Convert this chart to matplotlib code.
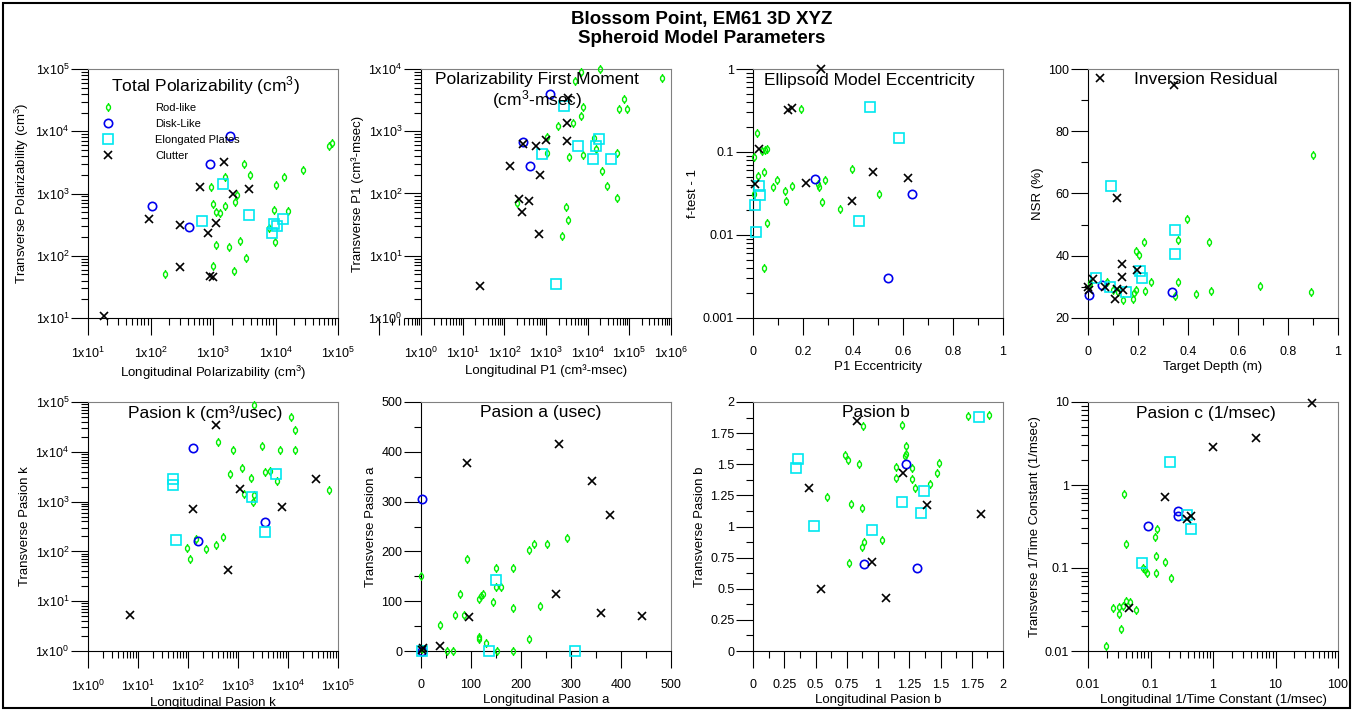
# Blossom Point EM61 - parametros do modelo esferoidal (8 paineis)
import numpy as np
import matplotlib.pyplot as plt
from matplotlib.path import Path
from matplotlib.lines import Line2D
from matplotlib.patches import Rectangle
from matplotlib.ticker import LogLocator, MultipleLocator, FuncFormatter, NullFormatter

plt.rcParams['font.family'] = ['Liberation Sans', 'DejaVu Sans']
plt.rcParams['mathtext.fontset'] = 'custom'
plt.rcParams['mathtext.rm'] = 'Liberation Sans'
plt.rcParams['mathtext.it'] = 'Liberation Sans:italic'
plt.rcParams['mathtext.bf'] = 'Liberation Sans:bold'

# ---------------- DADOS ----------------
classes = ['Rod-like', 'Disk-Like', 'Elongated Plates', 'Clutter']

# Painel 1 - Total Polarizability
p1_rod_x = [170, 940, 1000, 1100, 1280, 1550, 1550, 1100, 1000, 1780, 2180, 2400, 2280, 2700,
            3160, 3380, 3900, 7900, 9600, 9800, 10200, 13800, 15800, 28000, 71000, 79000]
p1_rod_y = [50, 1250, 680, 500, 480, 1870, 620, 148, 68, 139, 56, 930, 740, 175,
            2950, 92, 1950, 280, 550, 165, 1380, 1870, 515, 2400, 5800, 6400]
p1_disk_x = [105, 420, 890, 1850]
p1_disk_y = [620, 295, 3000, 8500]
p1_plate_x = [660, 1440, 3800, 8700, 9600, 10500, 13100]
p1_plate_y = [355, 1400, 445, 235, 320, 300, 390]
p1_clut_x = [18, 96, 300, 300, 630, 820, 890, 1000, 1100, 1500, 2100, 3700]
p1_clut_y = [10.6, 390, 310, 66, 1290, 235, 47, 45, 330, 3240, 1000, 1180]

# Painel 2 - Polarizability First Moment
p2_rod_x = [200, 1040, 1070, 1990, 2390, 3020, 3380, 3560, 4520, 5000, 6800, 6900, 7600, 7600,
            14500, 16200, 19400, 22500, 28700, 50000, 50500, 57500, 73000, 86500, 600000]
p2_rod_y = [70, 445, 815, 1230, 21, 60, 37, 380, 1350, 6500, 9100, 1780, 2450, 410,
            770, 525, 9900, 230, 133, 445, 85, 2240, 3250, 2240, 7100]
p2_disk_x = [280, 420, 1270]
p2_disk_y = [670, 280, 4000]
p2_plate_x = [800, 1700, 2750, 5900, 13700, 15600, 19000, 36300]
p2_plate_y = [430, 3.5, 2550, 570, 355, 580, 740, 355]
p2_clut_x = [26, 139, 220, 270, 280, 400, 590, 710, 690, 990, 3150, 3150, 3300]
p2_clut_y = [3.3, 280, 83, 50, 630, 76, 580, 196, 22.6, 720, 710, 1380, 3390]

# Painel 3 - Ellipsoid Model Eccentricity
p3_rod_x = [0.003, 0.005, 0.015, 0.020, 0.042, 0.044, 0.046, 0.057, 0.057, 0.078, 0.096, 0.129,
            0.133, 0.157, 0.19, 0.26, 0.264, 0.276, 0.286, 0.349, 0.394, 0.505, 0.036]
p3_rod_y = [0.0315, 0.086, 0.169, 0.052, 0.058, 0.0040, 0.107, 0.11, 0.014, 0.0375, 0.0457, 0.034,
            0.026, 0.039, 0.333, 0.041, 0.038, 0.0248, 0.046, 0.0207, 0.063, 0.0315, 0.104]
p3_disk_x = [0.247, 0.538, 0.637]
p3_disk_y = [0.047, 0.0030, 0.031]
p3_plate_x = [0.009, 0.011, 0.025, 0.027, 0.424, 0.466, 0.584]
p3_plate_y = [0.0228, 0.0109, 0.0386, 0.0306, 0.0149, 0.352, 0.148]
p3_clut_x = [0.008, 0.025, 0.139, 0.157, 0.212, 0.271, 0.394, 0.481, 0.62]
p3_clut_y = [0.0415, 0.110, 0.32, 0.339, 0.042, 1.0, 0.026, 0.057, 0.0486]

# Painel 4 - Inversion Residual
p4_rod_x = [0.008, 0.077, 0.099, 0.14, 0.179, 0.183, 0.191, 0.191, 0.203, 0.224, 0.228, 0.252,
            0.349, 0.361, 0.361, 0.396, 0.433, 0.483, 0.493, 0.689, 0.891, 0.901, 0.12]
p4_rod_y = [31.3, 31.6, 28.9, 25.9, 26.1, 28.0, 28.9, 41.4, 40.1, 44.3, 28.6, 31.5,
            27.0, 44.9, 31.6, 51.9, 27.8, 44.4, 28.6, 30.2, 28.4, 72.3, 28.5]
p4_disk_x = [0.004, 0.055, 0.335]
p4_disk_y = [27.3, 30.5, 28.5]
p4_plate_x = [0.031, 0.091, 0.087, 0.153, 0.207, 0.216, 0.349, 0.349]
p4_plate_y = [32.7, 62.5, 30.0, 28.5, 35.2, 32.9, 48.4, 40.7]
p4_clut_x = [0.0, 0.004, 0.02, 0.048, 0.068, 0.107, 0.115, 0.115, 0.136, 0.135, 0.141, 0.195, 0.344]
p4_clut_y = [30.1, 29.1, 32.5, 97.0, 29.8, 26.0, 58.6, 29.4, 37.2, 33.3, 29.1, 35.5, 94.9]

# Painel 5 - Pasion k
p5_rod_x = [95, 112, 147, 233, 355, 390, 500, 690, 780, 1200, 1320, 1800, 2000, 2090, 2130,
            3080, 3540, 4370, 6000, 6800, 11500, 13500, 13800, 67000]
p5_rod_y = [115, 69, 177, 110, 134, 15800, 195, 3640, 10700, 4800, 1450, 3030, 985, 1340, 89000,
            13300, 3970, 4100, 2640, 11000, 49000, 27000, 10700, 1700]
p5_disk_x = [124, 158, 3400]
p5_disk_y = [11800, 163, 390]
p5_plate_x = [49, 49, 57, 1940, 3400, 5850]
p5_plate_y = [2900, 2150, 168, 1240, 245, 3540]
p5_clut_x = [6.8, 126, 355, 630, 1110, 7700, 35500]
p5_clut_y = [5.3, 725, 34000, 41.5, 1810, 775, 2870]

# Painel 6 - Pasion a
p6_rod_x = [0.7, 1, 37, 51, 64, 67, 77, 86, 91, 116, 116, 116, 120, 123, 129, 143, 150, 150, 151,
            159, 184, 184, 184, 216, 216, 226, 238, 251, 292]
p6_rod_y = [150, 5, 53, 1, 1, 72, 114, 72, 184, 104, 29, 24, 110, 115, 17, 99, 166, 129, 1,
            128, 166, 86, 1, 203, 24, 215, 90, 215, 226]
p6_disk_x = [1, 1]
p6_disk_y = [306, 1]
p6_plate_x = [1, 136, 150, 308]
p6_plate_y = [0.5, 1, 142, 1]
p6_clut_x = [1, 4, 37, 91, 95, 270, 276, 342, 360, 378, 441]
p6_clut_y = [3, 7, 11, 378, 68, 115, 416, 341, 76, 274, 71]

# Painel 7 - Pasion b
p7_rod_x = [0.595, 0.736, 0.757, 0.765, 0.787, 0.848, 0.869, 0.869, 0.888, 0.883, 1.035, 1.141,
            1.144, 1.195, 1.216, 1.227, 1.221, 1.269, 1.269, 1.296, 1.413, 1.469, 1.485, 1.723, 1.888]
p7_rod_y = [1.238, 1.572, 1.537, 0.703, 1.184, 1.50, 1.152, 0.837, 0.877, 1.807, 0.890, 1.390,
            1.479, 1.813, 1.564, 1.647, 1.586, 1.471, 1.380, 1.310, 1.340, 1.433, 1.511, 1.888, 1.893]
p7_disk_x = [0.891, 1.224, 1.309]
p7_disk_y = [0.695, 1.50, 0.668]
p7_plate_x = [0.341, 0.36, 0.488, 0.949, 1.195, 1.344, 1.368, 1.805]
p7_plate_y = [1.471, 1.545, 1.005, 0.973, 1.198, 1.112, 1.286, 1.880]
p7_clut_x = [0.448, 0.541, 0.835, 0.949, 1.061, 1.197, 1.395, 1.824]
p7_clut_y = [1.307, 0.497, 1.848, 0.711, 0.422, 1.433, 1.176, 1.099]

# Painel 8 - Pasion c
p8_rod_x = [0.0194, 0.0254, 0.0309, 0.0317, 0.0337, 0.0367, 0.0377, 0.04, 0.04, 0.047, 0.058,
            0.0768, 0.0826, 0.088, 0.118, 0.127, 0.121, 0.121, 0.17, 0.213]
p8_rod_y = [0.0114, 0.0329, 0.0276, 0.034, 0.0186, 0.0347, 0.774, 0.197, 0.0403, 0.0392, 0.0311,
            0.1, 0.0933, 0.086, 0.237, 0.296, 0.14, 0.0875, 0.119, 0.0748]
p8_disk_x = [0.092, 0.279, 0.279]
p8_disk_y = [0.322, 0.488, 0.42]
p8_plate_x = [0.073, 0.205, 0.388, 0.44]
p8_plate_y = [0.116, 1.88, 0.432, 0.291]
p8_clut_x = [0.0458, 0.169, 0.38, 0.445, 1.0, 4.8, 38.8]
p8_clut_y = [0.0332, 0.713, 0.388, 0.42, 2.9, 3.69, 9.8]


# ---------------- MARCADORES ----------------
# Rod-like: pequena elipse com haste vertical
circ = Path.unit_circle()
oval = Path(circ.vertices * [0.7, 0.95], circ.codes)
haste = Path([(0, 0.95), (0, 1.6), (0, -0.95), (0, -1.6)],
             [Path.MOVETO, Path.LINETO, Path.MOVETO, Path.LINETO])
rod_marker = Path.make_compound_path(oval, haste)

estilos = [
    dict(marker=rod_marker, ms=6.5, mec='#00ee00', mfc='none', mew=1.0),
    dict(marker='o', ms=6, mec='#0000ee', mfc='none', mew=1.2),
    dict(marker='s', ms=6.5, mec='#00e8f0', mfc='none', mew=1.2),
    dict(marker='x', ms=6, mec='black', mew=1.2),
]

fmt_sci = FuncFormatter(lambda v, p: r'$\mathregular{1x10^{%d}}$' % round(np.log10(v)))
fmt_g = FuncFormatter(lambda v, p: '%g' % v)

FIG_W, FIG_H = 13.59, 7.10
TAM_MAIOR, TAM_MENOR = 12, 5   # comprimento dos tracos (pt)


def eixo_log(axis, formato):
    axis.set_major_locator(LogLocator(base=10, numticks=20))
    axis.set_minor_locator(LogLocator(base=10, subs=np.arange(2, 10), numticks=20))
    axis.set_minor_formatter(NullFormatter())
    axis.set_major_formatter(formato)


def eixo_lin(axis, passo):
    axis.set_major_locator(MultipleLocator(passo))
    axis.set_minor_locator(MultipleLocator(passo / 2))
    axis.set_major_formatter(fmt_g)


def dentro(locs, lim):
    lo, hi = min(lim), max(lim)
    tol = (hi - lo) * 1e-6
    return [v for v in locs if lo - tol <= v <= hi + tol]


def ticks(ax):
    # tracos nativos com comprimento zero; os tracos visiveis sao desenhados abaixo
    ax.tick_params(which='both', direction='out', length=0, top=False, right=False, labelsize=9)
    ax.tick_params(axis='x', which='both', pad=8 + TAM_MAIOR)
    ax.tick_params(axis='y', which='both', pad=1.5 + TAM_MAIOR)
    pos = ax.get_position()
    alt_pt = pos.height * FIG_H * 72
    larg_pt = pos.width * FIG_W * 72
    for tam, maior in [(TAM_MAIOR, True), (TAM_MENOR, False)]:
        xl = ax.xaxis.get_majorticklocs() if maior else ax.xaxis.get_minorticklocs()
        yl = ax.yaxis.get_majorticklocs() if maior else ax.yaxis.get_minorticklocs()
        ax.vlines(dentro(xl, ax.get_xlim()), -tam / alt_pt, 0, transform=ax.get_xaxis_transform(),
                  colors='black', lw=0.8, clip_on=False)
        ax.hlines(dentro(yl, ax.get_ylim()), -tam / larg_pt, 0, transform=ax.get_yaxis_transform(),
                  colors='black', lw=0.8, clip_on=False)


def painel(ax, dados, titulo, tx, ty, xlabel, ylabel, xlog, ylog, xlim, ylim, xpasso=None, ypasso=None,
           fx=fmt_sci, fy=fmt_sci):
    for (x, y), st in zip(dados, estilos):
        ax.plot(x, y, linestyle='none', clip_on=False, zorder=3, **st)
    for lado in ['top', 'right']:
        ax.spines[lado].set_color('#808080')
        ax.spines[lado].set_linewidth(0.8)
    ax.text(tx, ty, titulo, transform=ax.transAxes, ha='center', va='center',
            fontsize=12.5, linespacing=1.1)
    ax.set_xlabel(xlabel, fontsize=9.5, labelpad=2)
    ax.set_ylabel(ylabel, fontsize=9.5, labelpad=3)
    if xlog:
        ax.set_xscale('log')
    if ylog:
        ax.set_yscale('log')
    ax.set_xlim(*xlim)
    ax.set_ylim(*ylim)
    if xlog:
        eixo_log(ax.xaxis, fx)
    else:
        eixo_lin(ax.xaxis, xpasso)
    if ylog:
        eixo_log(ax.yaxis, fy)
    else:
        eixo_lin(ax.yaxis, ypasso)
    ticks(ax)
    ax.set_xlim(*xlim)
    ax.set_ylim(*ylim)


fig = plt.figure(figsize=(FIG_W, FIG_H), dpi=100)

esq = [88, 421, 753, 1088]
larg = 250 / 1359
alt = 249 / 710
axs = [fig.add_axes([e / 1359, 392 / 710, larg, alt]) for e in esq] + \
      [fig.add_axes([e / 1359, 59 / 710, larg, alt]) for e in esq]

painel(axs[0], [(p1_rod_x, p1_rod_y), (p1_disk_x, p1_disk_y), (p1_plate_x, p1_plate_y), (p1_clut_x, p1_clut_y)],
       r'Total Polarizability (cm$^{3}$)', 0.47, 0.932,
       r'Longitudinal Polarizability (cm$^{3}$)', r'Transverse Polarizability (cm$^{3}$)',
       True, True, (10, 1e5), (10, 1e5))
handles = [Line2D([], [], linestyle='none', **st) for st in estilos]
axs[0].legend(handles, classes, loc='upper left', bbox_to_anchor=(0.016, 0.904), frameon=False,
              fontsize=8, handlelength=1.0, handletextpad=3.8, labelspacing=0.55, borderpad=0.4)

painel(axs[1], [(p2_rod_x, p2_rod_y), (p2_disk_x, p2_disk_y), (p2_plate_x, p2_plate_y), (p2_clut_x, p2_clut_y)],
       'Polarizability First Moment\n' + r'(cm$^{3}$-msec)', 0.465, 0.91,
       'Longitudinal P1 (cm³-msec)', 'Transverse P1 (cm³-msec)',
       True, True, (1, 1e6), (1, 1e4))

painel(axs[2], [(p3_rod_x, p3_rod_y), (p3_disk_x, p3_disk_y), (p3_plate_x, p3_plate_y), (p3_clut_x, p3_clut_y)],
       'Ellipsoid Model Eccentricity', 0.466, 0.952, 'P1 Eccentricity', 'f-test - 1',
       False, True, (0, 1), (0.001, 1), xpasso=0.2, fy=fmt_g)

painel(axs[3], [(p4_rod_x, p4_rod_y), (p4_disk_x, p4_disk_y), (p4_plate_x, p4_plate_y), (p4_clut_x, p4_clut_y)],
       'Inversion Residual', 0.472, 0.956, 'Target Depth (m)', 'NSR (%)',
       False, False, (0, 1), (20, 100), xpasso=0.2, ypasso=20)

painel(axs[4], [(p5_rod_x, p5_rod_y), (p5_disk_x, p5_disk_y), (p5_plate_x, p5_plate_y), (p5_clut_x, p5_clut_y)],
       'Pasion k (cm³/usec)', 0.47, 0.956, 'Longitudinal Pasion k', 'Transverse Pasion k',
       True, True, (1, 1e5), (1, 1e5))

painel(axs[5], [(p6_rod_x, p6_rod_y), (p6_disk_x, p6_disk_y), (p6_plate_x, p6_plate_y), (p6_clut_x, p6_clut_y)],
       'Pasion a (usec)', 0.48, 0.956, 'Longitudinal Pasion a', 'Transverse Pasion a',
       False, False, (0, 500), (0, 500), xpasso=100, ypasso=100)

painel(axs[6], [(p7_rod_x, p7_rod_y), (p7_disk_x, p7_disk_y), (p7_plate_x, p7_plate_y), (p7_clut_x, p7_clut_y)],
       'Pasion b', 0.49, 0.956, 'Longitudinal Pasion b', 'Transverse Pasion b',
       False, False, (0, 2), (0, 2), xpasso=0.25, ypasso=0.25)

painel(axs[7], [(p8_rod_x, p8_rod_y), (p8_disk_x, p8_disk_y), (p8_plate_x, p8_plate_y), (p8_clut_x, p8_clut_y)],
       'Pasion c (1/msec)', 0.472, 0.952,
       'Longitudinal 1/Time Constant (1/msec)', 'Transverse 1/Time Constant (1/msec)',
       True, True, (0.01, 100), (0.01, 10), fx=fmt_g, fy=fmt_g)

# TITULO E MOLDURA
fig.text(0.516, 1 - 29 / 710, 'Blossom Point, EM61 3D XYZ\nSpheroid Model Parameters',
         ha='center', va='center', fontsize=13.5, fontweight='bold', linespacing=1.2)
fig.add_artist(Rectangle((3 / 1359, 2 / 710), 1347 / 1359, 705 / 710, transform=fig.transFigure,
                         fill=False, lw=1.5, ec='black'))

fig.savefig('out.png', dpi=100)
